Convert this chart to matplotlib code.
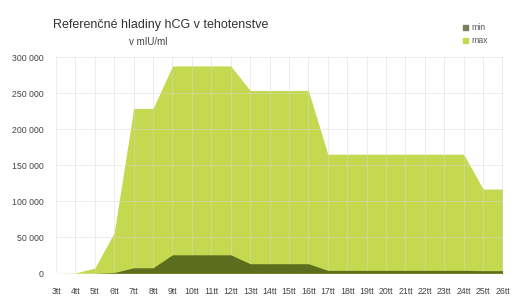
import matplotlib
matplotlib.use("Agg")
import matplotlib.pyplot as plt
from matplotlib.patches import Rectangle

plt.rcParams['font.family'] = ['Liberation Sans', 'DejaVu Sans']

weeks = [f"{w}tt" for w in range(3, 27)]
min_vals = [5, 5, 18, 1080, 7650, 7650, 25700, 25700, 25700, 25700,
            13300, 13300, 13300, 13300, 4060, 4060, 4060, 4060, 4060, 4060,
            4060, 4060, 3640, 3640]
max_vals = [50, 426, 7340, 56500, 229000, 229000, 288000, 288000, 288000, 288000,
            254000, 254000, 254000, 254000, 165400, 165400, 165400, 165400, 165400, 165400,
            165400, 165400, 117000, 117000]
yticks = [0, 50000, 100000, 150000, 200000, 250000, 300000]

c_max = '#c4d94f'
c_min = '#5c6d1e'

W, H = 529, 307
fig = plt.figure(figsize=(W/100, H/100), dpi=100)
ax = fig.add_axes([56/W, 1-273.3/H, (502.5-56)/W, (273.3-57.3)/H])

x = list(range(len(weeks)))
ax.fill_between(x, 0, max_vals, color=c_max, lw=0, zorder=2)
ax.fill_between(x, 0, min_vals, color=c_min, lw=0, zorder=3)

ax.set_xlim(0, len(weeks)-1)
ax.set_ylim(0, 300000)
ax.set_xticks(x)
ax.set_xticklabels(weeks, fontsize=6.3, color='#444444')
ax.set_yticks(yticks)
ax.set_yticklabels([f"{v:,}".replace(",", " ") for v in yticks], fontsize=6.3, color='#444444')
ax.tick_params(length=0)
ax.tick_params(axis='x', pad=10)
ax.tick_params(axis='y', pad=9)
for s in ax.spines.values():
    s.set_visible(False)
ax.grid(True, color='#d8d8d8', lw=0.6, zorder=4, alpha=0.55)
ax.set_axisbelow(False)

fig.text(53/W, 1-25/H, "Referenčné hladiny hCG v tehotenstve", fontsize=9,
         color='#333333', va='center', ha='left')
fig.text(148/W, 1-42/H, "v mIU/ml", fontsize=7, color='#444444', va='center', ha='center')

for i, (lab, col) in enumerate([("min", '#7a7f5f'), ("max", c_max)]):
    yy = 27 + i*13.5
    fig.patches.append(Rectangle((463/W, 1-(yy+2.5)/H), 5/W, 5/H, color=col,
                                 transform=fig.transFigure, figure=fig))
    fig.text(471/W, 1-yy/H, lab, fontsize=6.3, color='#555555', va='center', ha='left')

fig.savefig("out.png", dpi=100)
